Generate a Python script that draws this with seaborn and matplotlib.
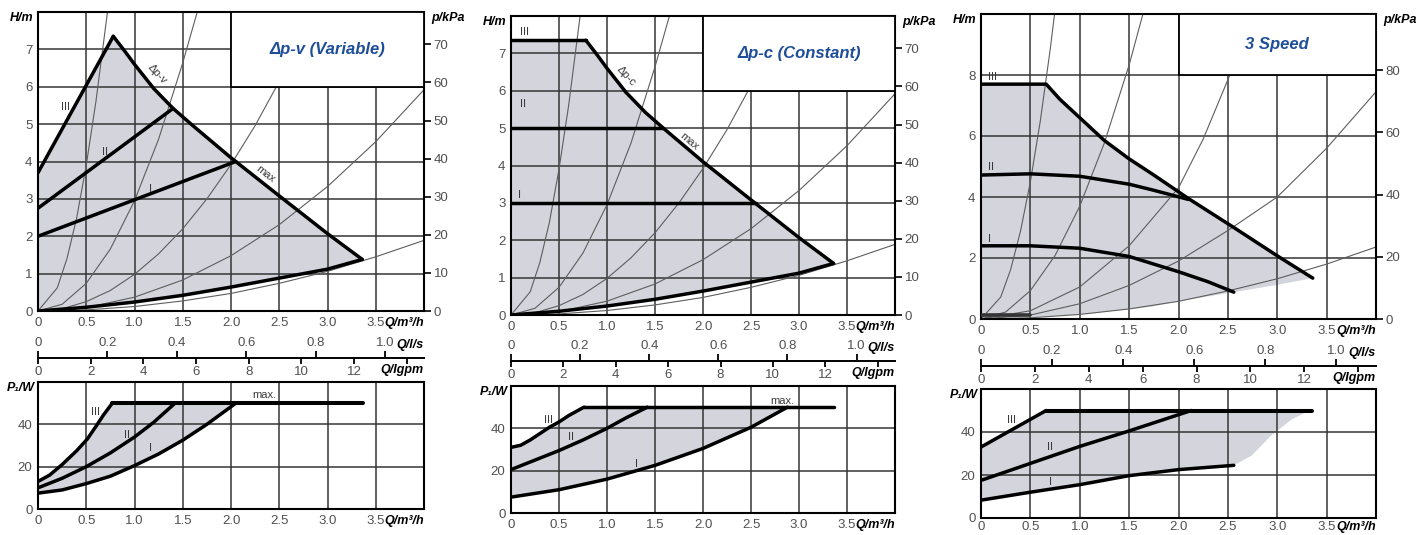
import numpy as np
import matplotlib
matplotlib.use("Agg")
import matplotlib.pyplot as plt
import seaborn as sns
from matplotlib.patches import Rectangle

sns.set_style("white")
plt.rcParams['font.family'] = ['Liberation Sans', 'DejaVu Sans']

W, H = 1427, 535
KPA_PER_M = 9.81
LS_TO_M3H = 3.6
IGPM_TO_M3H = 0.2728

# ---------------- data ----------------
XTICKS = [0, 0.5, 1.0, 1.5, 2.0, 2.5, 3.0, 3.5]
XTICK_LABELS = ['0', '0.5', '1.0', '1.5', '2.0', '2.5', '3.0', '3.5']
LS_TICKS = [0, 0.2, 0.4, 0.6, 0.8, 1.0]
LS_LABELS = ['0', '0.2', '0.4', '0.6', '0.8', '1.0']
IGPM_TICKS = [0, 2, 4, 6, 8, 10, 12, 14]
IGPM_LABELS = ['0', '2', '4', '6', '8', '10', '12', '']

# system curves, panels 1 and 2 (H/m scale 0-8)
SYS_Q = [[0, 0.2, 0.3, 0.4, 0.5, 0.6, 0.7, 0.72],
         [0, 0.25, 0.5, 0.75, 1.0, 1.25, 1.5, 1.65],
         [0, 0.25, 0.5, 0.75, 1.0, 1.25, 1.5, 1.75, 2.0, 2.25, 2.47],
         [0, 0.5, 1.0, 1.5, 2.0, 2.5, 3.0, 3.5, 4.0],
         [0, 0.5, 1.0, 1.5, 2.0, 2.5, 3.0, 3.5, 4.0]]
SYS_H = [[0, 0.62, 1.4, 2.48, 3.9, 5.6, 7.6, 8.0],
         [0, 0.18, 0.74, 1.66, 2.95, 4.6, 6.64, 8.0],
         [0, 0.06, 0.25, 0.55, 0.98, 1.53, 2.2, 3.0, 3.92, 4.96, 6.0],
         [0, 0.09, 0.37, 0.83, 1.48, 2.31, 3.33, 4.53, 5.92],
         [0, 0.03, 0.12, 0.27, 0.47, 0.74, 1.06, 1.45, 1.89]]

# system curves, panel 3 (H/m scale 0-10)
SYS3_Q = [[0, 0.2, 0.3, 0.4, 0.5, 0.6, 0.7, 0.745],
          [0, 0.25, 0.5, 0.75, 1.0, 1.25, 1.5, 1.64],
          [0, 0.5, 1.0, 1.5, 2.0, 2.25, 2.52],
          [0, 0.5, 1.0, 1.5, 2.0, 2.5, 3.0, 3.5, 4.0],
          [0, 0.5, 1.0, 1.5, 2.0, 2.5, 3.0, 3.5, 4.0]]
SYS3_H = [[0, 0.72, 1.62, 2.88, 4.5, 6.48, 8.82, 10.0],
          [0, 0.23, 0.93, 2.08, 3.7, 5.78, 8.33, 10.0],
          [0, 0.27, 1.05, 2.4, 4.3, 5.9, 8.0],
          [0, 0.13, 0.5, 1.1, 1.9, 2.9, 4.0, 5.6, 7.45],
          [0, 0.04, 0.15, 0.33, 0.58, 0.92, 1.32, 1.8, 2.36]]

# max curve and lower limit, panels 1 and 2
MAX_Q = [0.78, 0.9, 1.0, 1.2, 1.4, 1.6, 2.0, 2.5, 3.0, 3.36]
MAX_H = [7.35, 6.95, 6.6, 5.95, 5.42, 4.97, 4.1, 3.08, 2.07, 1.38]
LOW_Q = [0, 0.5, 1.0, 1.5, 2.0, 2.5, 3.0, 3.36]
LOW_H = [0, 0.1, 0.24, 0.42, 0.64, 0.88, 1.12, 1.38]

# dp-v head curves
PV_III_Q, PV_III_H = [0, 0.78], [3.7, 7.35]
PV_II_Q, PV_II_H = [0, 1.4], [2.75, 5.42]
PV_I_Q, PV_I_H = [0, 2.05], [2.0, 4.0]

# dp-c head curves
PC_III_Q, PC_III_H = [0, 0.78], [7.35, 7.35]
PC_II_Q, PC_II_H = [0, 1.58], [5.0, 5.0]
PC_I_Q, PC_I_H = [0, 2.55], [3.0, 3.0]

# 3 speed head curves
S_MAX_Q = [0, 0.66, 0.8, 1.0, 1.25, 1.5, 1.75, 2.1, 2.56, 3.02, 3.36]
S_MAX_H = [7.7, 7.7, 7.2, 6.6, 5.85, 5.25, 4.72, 3.95, 3.0, 2.03, 1.34]
S_II_Q = [0, 0.5, 1.0, 1.5, 1.75, 2.1]
S_II_H = [4.72, 4.76, 4.68, 4.42, 4.22, 3.92]
S_I_Q = [0, 0.5, 1.0, 1.5, 1.75, 2.0, 2.3, 2.56]
S_I_H = [2.4, 2.4, 2.32, 2.05, 1.8, 1.55, 1.22, 0.88]
S_LOW_Q = [0, 0.5, 1.0, 1.5, 1.72, 2.0, 2.56, 3.0, 3.36]
S_LOW_H = [0, 0.05, 0.15, 0.32, 0.4, 0.58, 0.88, 1.12, 1.34]
S_BASE_Q, S_BASE_H = [0, 0.5], [0.12, 0.12]

# power curves P1/W
PV_P_MAX_Q, PV_P_MAX = [0.77, 3.37], [50, 50]
PV_P_III_Q = [0, 0.12, 0.25, 0.4, 0.51, 0.6, 0.68, 0.77]
PV_P_III = [13, 16, 21, 27.5, 33, 39, 44.5, 50]
PV_P_II_Q = [0, 0.25, 0.5, 0.75, 1.0, 1.2, 1.42]
PV_P_II = [10, 14.5, 20, 26.5, 34, 41, 50]
PV_P_I_Q = [0, 0.25, 0.5, 0.75, 1.0, 1.25, 1.5, 1.75, 2.05]
PV_P_I = [7.5, 9, 12, 15.5, 20.5, 26, 32.5, 40, 50]

PC_P_MAX_Q, PC_P_MAX = [0.76, 3.36], [50, 50]
PC_P_III_Q = [0, 0.1, 0.2, 0.3, 0.4, 0.5, 0.6, 0.76]
PC_P_III = [31, 32, 34.5, 37.5, 40.5, 43, 46, 50]
PC_P_II_Q = [0, 0.25, 0.5, 0.75, 1.0, 1.2, 1.42]
PC_P_II = [20.5, 25, 29.5, 34.5, 40, 45, 50]
PC_P_I_Q = [0, 0.5, 1.0, 1.5, 2.0, 2.5, 2.88]
PC_P_I = [7.5, 11, 16, 22.5, 30.5, 40.5, 50]

S_P_MAX_Q, S_P_MAX = [0.66, 3.35], [50, 50]
S_P_III_Q, S_P_III = [0, 0.66], [33, 50]
S_P_II_Q, S_P_II = [0, 1.0, 1.5, 2.13], [17.5, 33.3, 40.5, 50]
S_P_I_Q = [0, 0.5, 1.0, 1.5, 2.0, 2.56]
S_P_I = [8.3, 12, 15.5, 19.7, 22.5, 24.5]
S_P_EDGE_Q = [2.56, 2.74, 2.93, 3.15, 3.33]
S_P_EDGE = [24.5, 29, 38, 46, 50]

# ---------------- styling ----------------
GRID = '#353535'
TICK = '#505050'
FILL = '#d3d4dc'
THIN = '#5e5e5e'
BLUE = '#1f4e99'
LBL = dict(fontsize=8, color='#3a3a3a', ha='center', va='center', zorder=6)
AXLBL = dict(fontsize=9, fontweight='bold', fontstyle='italic', color='black')

fig = plt.figure(figsize=(W / 100, H / 100), dpi=100)


def px_axes(x0, y0, x1, y1):
    return fig.add_axes([x0 / W, 1 - y1 / H, (x1 - x0) / W, (y1 - y0) / H])


def curve(ax, q, v, lw=2.5, color='black', z=3):
    sns.lineplot(x=q, y=v, ax=ax, color=color, lw=lw, sort=False,
                 estimator=None, zorder=z, solid_capstyle='round')


def base_axes(ax, ymax, yticks, ylabels, xpad=4):
    ax.set_xlim(0, 4)
    ax.set_ylim(0, ymax)
    ax.set_xticks(XTICKS + [4.0], XTICK_LABELS + [''])
    ax.set_yticks(yticks, ylabels)
    ax.tick_params(length=0, labelsize=9.5, labelcolor=TICK, pad=4)
    ax.tick_params(axis='x', pad=xpad)
    ax.grid(True, color=GRID, lw=1.1)
    ax.set_axisbelow('line')
    for s in ax.spines.values():
        s.set_visible(True)
        s.set_color('black')
        s.set_linewidth(1.5)
    ax.set_xlabel('')
    ax.set_ylabel('')
    ax.annotate('Q/m³/h', xy=(1, 0), xycoords='axes fraction', xytext=(0, -xpad),
                textcoords='offset points', ha='right', va='top', **AXLBL)


def head_axes(ax, ymax, ystep, kpa_ticks, box_bottom, title):
    yt = list(np.arange(0, ymax + 0.01, ystep))
    base_axes(ax, ymax, yt, [f'{v:g}' for v in yt[:-1]] + [''])
    ax.annotate('H/m', xy=(0, 1), xycoords='axes fraction', xytext=(-3, 0),
                textcoords='offset points', ha='right', va='top', **AXLBL)
    tw = ax.twinx()
    tw.set_ylim(0, ymax * KPA_PER_M)
    tw.set_yticks(kpa_ticks, [str(v) for v in kpa_ticks])
    tw.tick_params(axis='y', right=True, direction='out', length=5, width=1.2,
                   color='black', labelsize=9.5, labelcolor=TICK, pad=2)
    for s in tw.spines.values():
        s.set_visible(False)
    tw.annotate('p/kPa', xy=(1, 1), xycoords='axes fraction', xytext=(5, 0),
                textcoords='offset points', ha='left', va='top', **AXLBL)
    ax.add_patch(Rectangle((2.0, box_bottom), 2.0, ymax - box_bottom,
                           fc='white', ec='black', lw=1.3, zorder=4))
    ax.text(3.0, (box_bottom + ymax) / 2, title, color=BLUE, fontsize=12,
            fontweight='bold', fontstyle='italic', ha='center', va='center', zorder=5)


def power_axes(ax, xpad=4):
    base_axes(ax, 60, [0, 20, 40, 60], ['0', '20', '40', ''], xpad=xpad)
    ax.annotate('P₁/W', xy=(0, 1), xycoords='axes fraction', xytext=(-2, 0),
                textcoords='offset points', ha='right', va='top', **AXLBL)


def scale_axes(x0, x1, yline):
    sc = px_axes(x0, yline - 1, x1, yline)
    sc.set_xlim(0, 4)
    sc.set_ylim(0, 1)
    sc.set_facecolor('none')
    for k in ['left', 'right', 'top']:
        sc.spines[k].set_visible(False)
    sc.spines['bottom'].set_linewidth(1.4)
    sc.spines['bottom'].set_color('black')
    sc.set_yticks([])
    sc.set_xticks([g * IGPM_TO_M3H for g in IGPM_TICKS], IGPM_LABELS)
    sc.tick_params(axis='x', bottom=True, direction='out', length=4, width=1.3,
                   color='black', labelsize=9.5, labelcolor=TICK, pad=2)
    up = sc.twiny()
    up.set_xlim(0, 4)
    for s in up.spines.values():
        s.set_visible(False)
    up.set_yticks([])
    up.set_xticks([v * LS_TO_M3H for v in LS_TICKS], LS_LABELS)
    up.tick_params(axis='x', top=True, direction='out', length=4, width=1.3,
                   color='black', labelsize=9.5, labelcolor=TICK, pad=2)
    sc.annotate('Q/Igpm', xy=(1, 0), xycoords='axes fraction', xytext=(0, -4),
                textcoords='offset points', ha='right', va='top', **AXLBL)
    up.annotate('Q/l/s', xy=(1, 1), xycoords='axes fraction', xytext=(0, 4),
                textcoords='offset points', ha='right', va='bottom', **AXLBL)


def systems(ax, qs, hs):
    for q, h in zip(qs, hs):
        curve(ax, q, h, lw=0.8, color=THIN, z=2)


def fill(ax, xs, ys):
    ax.fill(np.concatenate(xs), np.concatenate(ys), color=FILL, lw=0, zorder=1)


# ================= panel 1 : dp-v =================
a1 = px_axes(38, 12, 424, 311)
head_axes(a1, 8, 1, list(range(0, 71, 10)), 6, 'Δp-v (Variable)')
fill(a1, [LOW_Q, MAX_Q[::-1], PV_III_Q[::-1]], [LOW_H, MAX_H[::-1], PV_III_H[::-1]])
systems(a1, SYS_Q, SYS_H)
curve(a1, MAX_Q, MAX_H)
curve(a1, LOW_Q, LOW_H)
curve(a1, PV_III_Q, PV_III_H)
curve(a1, PV_II_Q, PV_II_H)
curve(a1, PV_I_Q, PV_I_H)
a1.text(0.28, 5.45, 'III', **LBL)
a1.text(0.69, 4.26, 'II', **LBL)
a1.text(1.17, 3.27, 'I', **LBL)
a1.text(1.24, 6.33, 'Δp-v', rotation=-47, **LBL)
a1.text(2.36, 3.67, 'max', rotation=-38, **LBL)

scale_axes(38, 424, 358)

b1 = px_axes(38, 382, 424, 509)
power_axes(b1)
fill(b1, [PV_P_I_Q, PV_P_III_Q[::-1]], [PV_P_I, PV_P_III[::-1]])
curve(b1, PV_P_MAX_Q, PV_P_MAX, lw=2.9)
curve(b1, PV_P_III_Q, PV_P_III)
curve(b1, PV_P_II_Q, PV_P_II)
curve(b1, PV_P_I_Q, PV_P_I)
b1.text(0.6, 46, 'III', **LBL)
b1.text(0.92, 35, 'II', **LBL)
b1.text(1.17, 28.7, 'I', **LBL)
b1.text(2.35, 53.8, 'max.', **LBL)

# ================= panel 2 : dp-c =================
a2 = px_axes(511, 16, 895, 315)
head_axes(a2, 8, 1, list(range(0, 71, 10)), 6, 'Δp-c (Constant)')
fill(a2, [LOW_Q, MAX_Q[::-1], PC_III_Q[::-1]], [LOW_H, MAX_H[::-1], PC_III_H[::-1]])
systems(a2, SYS_Q, SYS_H)
curve(a2, MAX_Q, MAX_H)
curve(a2, LOW_Q, LOW_H)
curve(a2, PC_III_Q, PC_III_H)
curve(a2, PC_II_Q, PC_II_H)
curve(a2, PC_I_Q, PC_I_H)
a2.text(0.14, 7.58, 'III', **LBL)
a2.text(0.12, 5.65, 'II', **LBL)
a2.text(0.09, 3.2, 'I', **LBL)
a2.text(1.2, 6.4, 'Δp-c', rotation=-47, **LBL)
a2.text(1.86, 4.65, 'max', rotation=-40, **LBL)

scale_axes(511, 895, 361)

b2 = px_axes(511, 386, 895, 513)
power_axes(b2)
fill(b2, [PC_P_I_Q, PC_P_III_Q[::-1]], [PC_P_I, PC_P_III[::-1]])
curve(b2, PC_P_MAX_Q, PC_P_MAX, lw=2.5)
curve(b2, PC_P_III_Q, PC_P_III)
curve(b2, PC_P_II_Q, PC_P_II)
curve(b2, PC_P_I_Q, PC_P_I)
b2.text(0.39, 44, 'III', **LBL)
b2.text(0.62, 36, 'II', **LBL)
b2.text(1.31, 23.3, 'I', **LBL)
b2.text(2.83, 53, 'max.', **LBL)

# ================= panel 3 : 3 speed =================
a3 = px_axes(981, 14, 1376, 319)
head_axes(a3, 10, 2, [0, 20, 40, 60, 80], 8, '3 Speed')
fill(a3, [S_LOW_Q, S_MAX_Q[::-1]], [S_LOW_H, S_MAX_H[::-1]])
systems(a3, SYS3_Q, SYS3_H)
curve(a3, S_MAX_Q, S_MAX_H)
curve(a3, S_II_Q, S_II_H)
curve(a3, S_I_Q, S_I_H)
curve(a3, S_BASE_Q, S_BASE_H, lw=2.6, color='#333333')
a3.text(0.115, 7.95, 'III', **LBL)
a3.text(0.1, 5.0, 'II', **LBL)
a3.text(0.085, 2.62, 'I', **LBL)

scale_axes(981, 1376, 366)

b3 = px_axes(981, 389, 1376, 518)
power_axes(b3, xpad=2)
fill(b3, [S_P_I_Q, S_P_EDGE_Q, S_P_MAX_Q[::-1], S_P_III_Q[::-1]],
     [S_P_I, S_P_EDGE, S_P_MAX[::-1], S_P_III[::-1]])
curve(b3, S_P_MAX_Q, S_P_MAX, lw=2.9)
curve(b3, S_P_III_Q, S_P_III)
curve(b3, S_P_II_Q, S_P_II)
curve(b3, S_P_I_Q, S_P_I)
b3.text(0.31, 45.8, 'III', **LBL)
b3.text(0.7, 32.8, 'II', **LBL)
b3.text(0.7, 16.6, 'I', **LBL)

fig.savefig('out.png', dpi=100)
